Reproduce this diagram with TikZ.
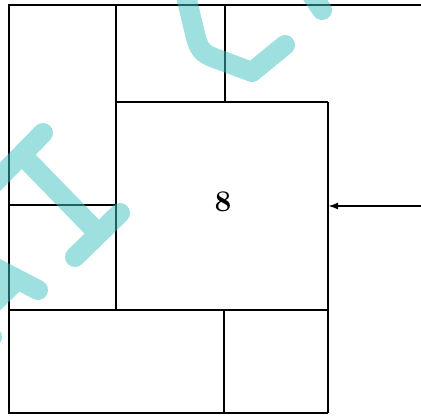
\documentclass[tikz,border=0pt]{standalone}
\usepackage{tikz}
\usetikzlibrary{arrows.meta}
\definecolor{wmark}{RGB}{62,192,192}

\begin{document}
\begin{tikzpicture}[x=1pt, y=-1pt,
    wall/.style={line width=2.3pt, black},
    stamp/.style={wmark, line width=20pt, line cap=round, line join=round}]
        \useasboundingbox (0,0) rectangle (421,416);
        % Outer frame
        \draw[wall] (421,5) -- (9,5) -- (9,413) -- (328,413);
        % Left column
        \draw[wall] (116,5) -- (116,310);
        \draw[wall] (9,205) -- (116,205);
        % Top row
        \draw[wall] (225,5) -- (225,102);
        \draw[wall] (116,102) -- (328,102);
        % Middle room
        \draw[wall] (328,102) -- (328,413);
        \draw[wall] (9,310) -- (328,310);
        \node[font=\fontsize{30}{30}\selectfont\bfseries] (room) at (223,202) {8};
        % Bottom row
        \draw[wall] (224,310) -- (224,413);
        % Right wing
        \draw[wall, -{Latex[length=10pt, width=7pt]}] (421,206) -- (328,206);
        % Watermark strokes
        \begin{scope}[transparency group, opacity=0.5]
        \draw[stamp] (185,-8) -- (196,38) .. controls (200,52) and (205,55) .. (220,60) -- (252,72) -- (285,45);
        \draw[stamp] (310,-8) -- (322,10);
        \draw[stamp] (43,133) -- (-8,185);
        \draw[stamp] (22,155) -- (97,232);
        \draw[stamp] (120,213) -- (75,257);
        \draw[stamp] (38,290) -- (-12,264);
        \draw[stamp] (15,282) -- (-12,308);
        \draw[stamp] (-15,330) -- (-8,337);
        \end{scope}
      \end{tikzpicture}
\end{document}
